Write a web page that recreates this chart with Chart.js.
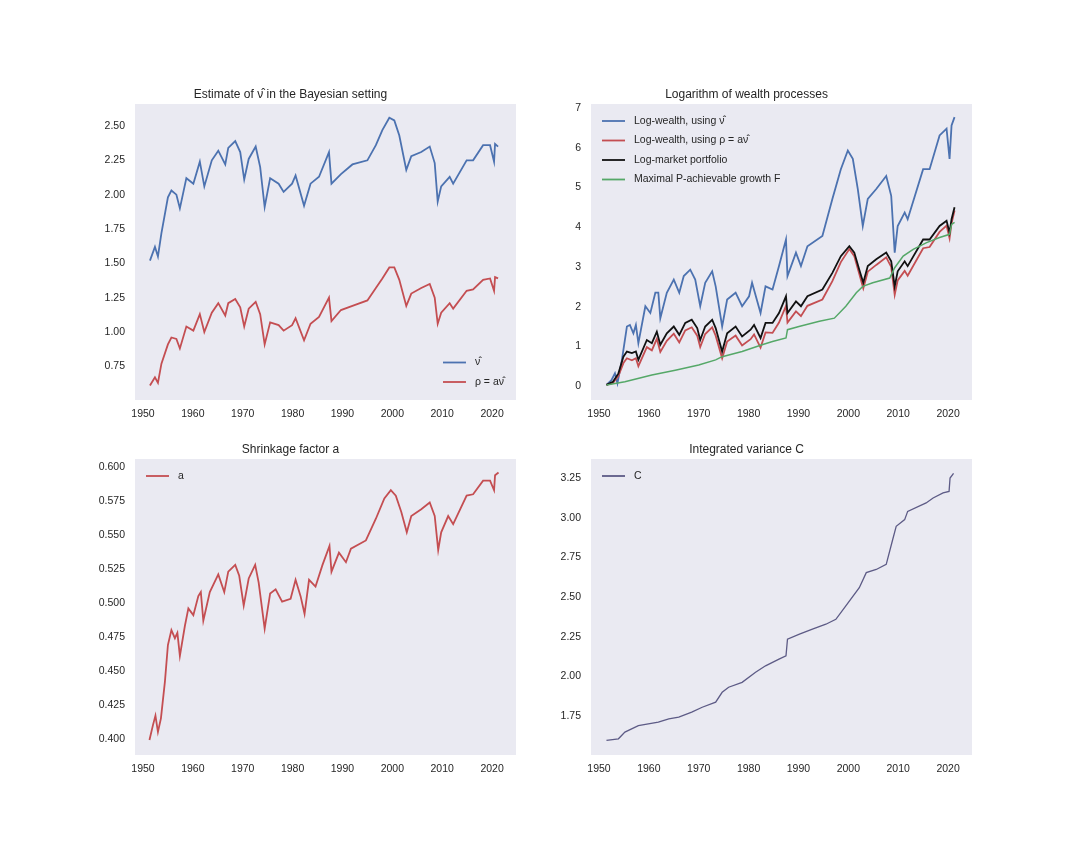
<!DOCTYPE html>
<html>
<head>
<meta charset="utf-8">
<script src="https://cdn.jsdelivr.net/npm/chart.js@4.4.1/dist/chart.umd.min.js"></script>
<style>
  body { margin: 0; background: #fff; }
  .plot { position: absolute; }
</style>
</head>
<body>
<div class="plot" style="left:65px;top:64px"><canvas id="nuChart" width="471" height="376"></canvas></div>
<div class="plot" style="left:521px;top:64px"><canvas id="wealthChart" width="471" height="376"></canvas></div>
<div class="plot" style="left:65px;top:419px"><canvas id="shrinkChart" width="471" height="376"></canvas></div>
<div class="plot" style="left:521px;top:419px"><canvas id="varChart" width="471" height="376"></canvas></div>
<script>
// estimate of nu-hat and rho = a*nu-hat
var nuYears = [1951.4,1952.4,1953.0,1953.7,1955.0,1955.7,1956.7,1957.4,1958.7,1960.1,1961.4,1962.3,1963.8,1965.1,1966.5,1967.1,1968.5,1969.5,1970.3,1971.2,1972.6,1973.5,1974.4,1975.5,1977.2,1978.2,1979.9,1980.6,1982.3,1983.6,1985.3,1987.3,1987.8,1989.7,1992.0,1995.0,1996.7,1998.0,1999.4,2000.4,2001.4,2002.8,2003.8,2005.8,2007.5,2008.5,2009.1,2009.8,2011.5,2012.2,2014.9,2016.2,2018.2,2019.6,2020.4,2020.6,2021.2];
var nuHat = [1.52,1.62,1.55,1.72,1.98,2.03,2.00,1.90,2.12,2.08,2.24,2.06,2.25,2.32,2.22,2.34,2.39,2.31,2.11,2.26,2.35,2.20,1.91,2.12,2.08,2.02,2.08,2.14,1.92,2.08,2.13,2.31,2.08,2.15,2.22,2.25,2.36,2.47,2.56,2.54,2.43,2.18,2.28,2.31,2.35,2.23,1.95,2.06,2.13,2.08,2.25,2.25,2.36,2.36,2.24,2.37,2.35];
var rhoHat = [0.61,0.67,0.63,0.77,0.91,0.96,0.95,0.88,1.04,1.01,1.13,1.00,1.14,1.21,1.12,1.21,1.24,1.18,1.04,1.17,1.22,1.13,0.91,1.07,1.05,1.01,1.05,1.10,0.94,1.06,1.11,1.25,1.08,1.16,1.19,1.23,1.32,1.39,1.47,1.47,1.38,1.19,1.28,1.32,1.35,1.25,1.06,1.14,1.21,1.17,1.30,1.31,1.38,1.39,1.30,1.40,1.39];

// log-wealth processes
var wNuYears = [1951.5,1952.5,1953.2,1953.7,1954.6,1955.6,1956.2,1956.9,1957.4,1957.9,1959.3,1960.3,1961.3,1961.9,1962.3,1963.6,1965.0,1966.1,1967.0,1968.3,1969.3,1970.3,1971.3,1972.7,1973.4,1974.7,1975.7,1977.4,1978.7,1980.1,1980.7,1982.4,1983.4,1984.8,1986.1,1987.5,1987.8,1989.5,1990.5,1991.8,1994.8,1996.8,1998.5,1999.9,2000.9,2001.9,2002.9,2003.9,2005.6,2007.6,2008.6,2009.3,2009.9,2011.3,2011.9,2015.0,2016.3,2018.3,2019.7,2020.3,2020.7,2021.3];
var wealthNu = [0.03,0.15,0.32,0.07,0.66,1.50,1.54,1.33,1.54,1.08,2.01,1.84,2.35,2.35,1.71,2.35,2.68,2.35,2.77,2.93,2.68,2.01,2.60,2.89,2.51,1.50,2.18,2.35,2.01,2.26,2.60,1.84,2.51,2.43,3.02,3.69,2.77,3.36,3.02,3.52,3.78,4.71,5.46,5.93,5.72,4.96,4.03,4.71,4.96,5.29,4.79,3.36,4.03,4.37,4.20,5.46,5.46,6.31,6.48,5.72,6.56,6.77];
var mktYears = [1951.5,1952.8,1953.9,1954.9,1955.6,1956.6,1957.4,1957.9,1959.6,1960.6,1961.6,1962.3,1963.6,1965.0,1966.1,1967.3,1968.6,1969.7,1970.3,1971.3,1972.7,1973.4,1974.7,1975.7,1977.4,1978.7,1980.4,1981.1,1982.4,1983.4,1984.8,1986.1,1987.5,1987.8,1989.5,1990.5,1991.8,1994.8,1996.8,1998.5,2000.2,2001.2,2002.2,2003.0,2003.9,2005.6,2007.6,2008.6,2009.3,2009.9,2011.3,2011.9,2015.0,2016.3,2018.3,2019.7,2020.3,2020.7,2021.3];
var wealthRho = [0.03,0.08,0.26,0.58,0.70,0.65,0.70,0.50,0.98,0.90,1.19,0.86,1.14,1.32,1.10,1.40,1.48,1.27,0.98,1.31,1.48,1.27,0.70,1.12,1.27,1.02,1.18,1.30,0.97,1.35,1.34,1.60,2.02,1.60,1.88,1.76,2.02,2.18,2.64,3.12,3.45,3.27,2.82,2.46,2.88,3.05,3.24,3.00,2.30,2.66,2.90,2.78,3.47,3.50,3.88,4.04,3.72,4.10,4.42];
var wealthMkt = [0.03,0.11,0.32,0.74,0.87,0.83,0.87,0.66,1.16,1.08,1.37,1.04,1.33,1.50,1.29,1.59,1.67,1.46,1.16,1.50,1.67,1.46,0.87,1.33,1.50,1.25,1.42,1.54,1.21,1.59,1.59,1.84,2.26,1.84,2.13,2.01,2.26,2.43,2.85,3.27,3.52,3.36,2.93,2.60,3.02,3.19,3.36,3.14,2.51,2.89,3.14,3.02,3.69,3.69,4.03,4.16,3.86,4.20,4.50];
var growthYears = [1951.5,1955.2,1960.6,1965.3,1970.0,1973.4,1974.7,1978.7,1982.7,1984.8,1987.5,1987.8,1990.1,1994.2,1997.2,1999.5,2001.6,2002.9,2004.9,2008.3,2009.3,2011.0,2013.0,2015.7,2018.3,2020.3,2020.7,2021.3];
var growthF = [0.03,0.11,0.28,0.40,0.53,0.66,0.74,0.87,1.04,1.12,1.21,1.42,1.50,1.63,1.71,2.01,2.35,2.51,2.60,2.72,2.98,3.27,3.44,3.61,3.74,3.82,4.07,4.12];

// shrinkage factor a
var aYears = [1951.3,1952.0,1952.5,1953.0,1953.6,1954.4,1955.0,1955.7,1956.4,1956.9,1957.4,1958.4,1959.1,1960.1,1961.1,1961.6,1962.1,1963.4,1965.1,1966.3,1967.1,1968.5,1969.3,1970.2,1971.2,1972.5,1973.2,1974.4,1975.5,1976.6,1977.9,1979.6,1980.6,1981.6,1982.4,1983.3,1984.6,1986.0,1987.4,1987.8,1989.3,1990.7,1991.7,1994.7,1996.7,1998.4,1999.7,2000.7,2001.8,2002.9,2003.8,2005.8,2007.5,2008.5,2009.2,2009.8,2011.2,2012.2,2014.9,2016.2,2018.2,2019.6,2020.4,2020.6,2021.3];
var aValues = [0.399,0.410,0.417,0.405,0.415,0.442,0.469,0.480,0.474,0.478,0.461,0.483,0.496,0.491,0.505,0.508,0.487,0.508,0.521,0.508,0.523,0.528,0.520,0.498,0.518,0.528,0.515,0.481,0.507,0.510,0.501,0.503,0.517,0.505,0.492,0.517,0.512,0.528,0.542,0.523,0.537,0.530,0.540,0.546,0.562,0.577,0.583,0.579,0.567,0.552,0.564,0.569,0.574,0.564,0.539,0.552,0.564,0.558,0.579,0.580,0.590,0.590,0.583,0.594,0.596];

// integrated variance C
var cYears = [1951.5,1953.9,1955.2,1957.9,1961.9,1964.0,1966.0,1968.6,1970.7,1973.4,1974.7,1976.0,1978.7,1981.4,1983.4,1986.1,1987.5,1987.8,1990.2,1992.8,1995.5,1997.5,1999.5,2002.2,2003.6,2005.6,2007.6,2008.9,2009.6,2011.3,2011.9,2015.6,2017.0,2019.0,2020.2,2020.4,2021.1];
var cValues = [1.597,1.607,1.649,1.690,1.712,1.733,1.743,1.775,1.806,1.838,1.900,1.932,1.963,2.026,2.067,2.109,2.130,2.235,2.266,2.298,2.329,2.360,2.444,2.559,2.654,2.674,2.706,2.863,2.946,2.988,3.040,3.093,3.124,3.156,3.166,3.250,3.280];

var Blue = '#4C72B0', Red = '#C44E52', Green = '#55A868', Black = '#111111', Slate = '#5d5b86';
var FONT = '"Liberation Sans", Arial, sans-serif';

Chart.defaults.font.family = FONT;
Chart.defaults.color = '#262626';

function pairs(xs, ys) {
    return xs.map(function (x, i) { return { x: x, y: ys[i] }; });
}

// grey axes background, like seaborn darkgrid (no grid lines here)
var areaBg = {
    id: 'areaBg',
    beforeDraw: function (chart) {
        var a = chart.chartArea, ctx = chart.ctx;
        ctx.save();
        ctx.fillStyle = '#EAEAF2';
        ctx.fillRect(a.left, a.top, a.right - a.left, a.bottom - a.top);
        ctx.restore();
    }
};

// matplotlib-like legend drawn inside the axes
var legendInside = {
    id: 'legendInside',
    afterDatasetsDraw: function (chart, args, opts) {
        var a = chart.chartArea, ctx = chart.ctx;
        var sets = chart.data.datasets;
        var rowH = 19.5;
        ctx.save();
        ctx.font = '10.5px ' + FONT;
        ctx.textBaseline = 'middle';
        var x0, y0;
        if (opts.where === 'lr') {
            var w = Math.max.apply(null, sets.map(function (d) { return ctx.measureText(d.label).width; }));
            x0 = a.right - 12 - w - 32;
            y0 = a.bottom - 18 - (sets.length - 1) * rowH;
        } else {
            x0 = a.left + 11;
            y0 = a.top + 17;
        }
        sets.forEach(function (d, i) {
            var y = y0 + i * rowH;
            ctx.strokeStyle = d.borderColor;
            ctx.lineWidth = 1.8;
            ctx.beginPath();
            ctx.moveTo(x0, y);
            ctx.lineTo(x0 + 23, y);
            ctx.stroke();
            ctx.fillStyle = '#262626';
            ctx.fillText(d.label, x0 + 32, y);
        });
        ctx.restore();
    }
};

function line(label, xs, ys, color, width, order) {
    return {
        label: label,
        data: pairs(xs, ys),
        borderColor: color,
        backgroundColor: color,
        borderWidth: width,
        pointRadius: 0,
        tension: 0,
        order: order || 0
    };
}

function makeChart(id, title, datasets, y, where) {
    return new Chart(document.getElementById(id), {
        type: 'line',
        data: { datasets: datasets },
        plugins: [areaBg, legendInside],
        options: {
            responsive: false,
            animation: false,
            devicePixelRatio: 1,
            layout: { padding: { top: 23.3, right: 20, left: 0, bottom: 0 } },
            plugins: {
                legend: { display: false },
                tooltip: { enabled: false },
                title: {
                    display: true,
                    text: title,
                    color: '#262626',
                    font: { size: 12, weight: 'normal', lineHeight: 1.2 },
                    padding: { top: 0, bottom: 2.3 }
                },
                legendInside: { where: where }
            },
            scales: {
                x: {
                    type: 'linear',
                    min: 1948.4,
                    max: 2024.8,
                    border: { display: false },
                    grid: { display: false, drawTicks: false },
                    ticks: {
                        stepSize: 10,
                        includeBounds: false,
                        padding: 8,
                        maxRotation: 0,
                        font: { size: 10.5 },
                        callback: function (v) { return String(v); }
                    },
                    afterFit: function (s) { s.height = 40; }
                },
                y: {
                    min: y.min,
                    max: y.max,
                    border: { display: false },
                    grid: { display: false, drawTicks: false },
                    ticks: {
                        stepSize: y.step,
                        includeBounds: false,
                        padding: 10,
                        font: { size: 10.5 },
                        callback: function (v) { return v.toFixed(y.dec); }
                    },
                    afterFit: function (s) { s.width = 70; }
                }
            }
        }
    });
}

makeChart('nuChart', 'Estimate of \u03BD\u0302 in the Bayesian setting', [
    line('\u03BD\u0302', nuYears, nuHat, Blue, 1.8),
    line('\u03C1 = a\u03BD\u0302', nuYears, rhoHat, Red, 1.8)
], { min: 0.505, max: 2.66, step: 0.25, dec: 2 }, 'lr');

makeChart('wealthChart', 'Logarithm of wealth processes', [
    line('Log-wealth, using \u03BD\u0302', wNuYears, wealthNu, Blue, 1.8, 3),
    line('Log-wealth, using \u03C1 = a\u03BD\u0302', mktYears, wealthRho, Red, 1.8, 2),
    line('Log-market portfolio', mktYears, wealthMkt, Black, 1.8, 1),
    line('Maximal P-achievable growth F', growthYears, growthF, Green, 1.5, 0)
], { min: -0.35, max: 7.1, step: 1, dec: 0 }, 'ul');

makeChart('shrinkChart', 'Shrinkage factor a', [
    line('a', aYears, aValues, Red, 1.8)
], { min: 0.388, max: 0.606, step: 0.025, dec: 3 }, 'ul');

makeChart('varChart', 'Integrated variance C', [
    line('C', cYears, cValues, Slate, 1.3)
], { min: 1.505, max: 3.37, step: 0.25, dec: 2 }, 'ul');
</script>
</body>
</html>
